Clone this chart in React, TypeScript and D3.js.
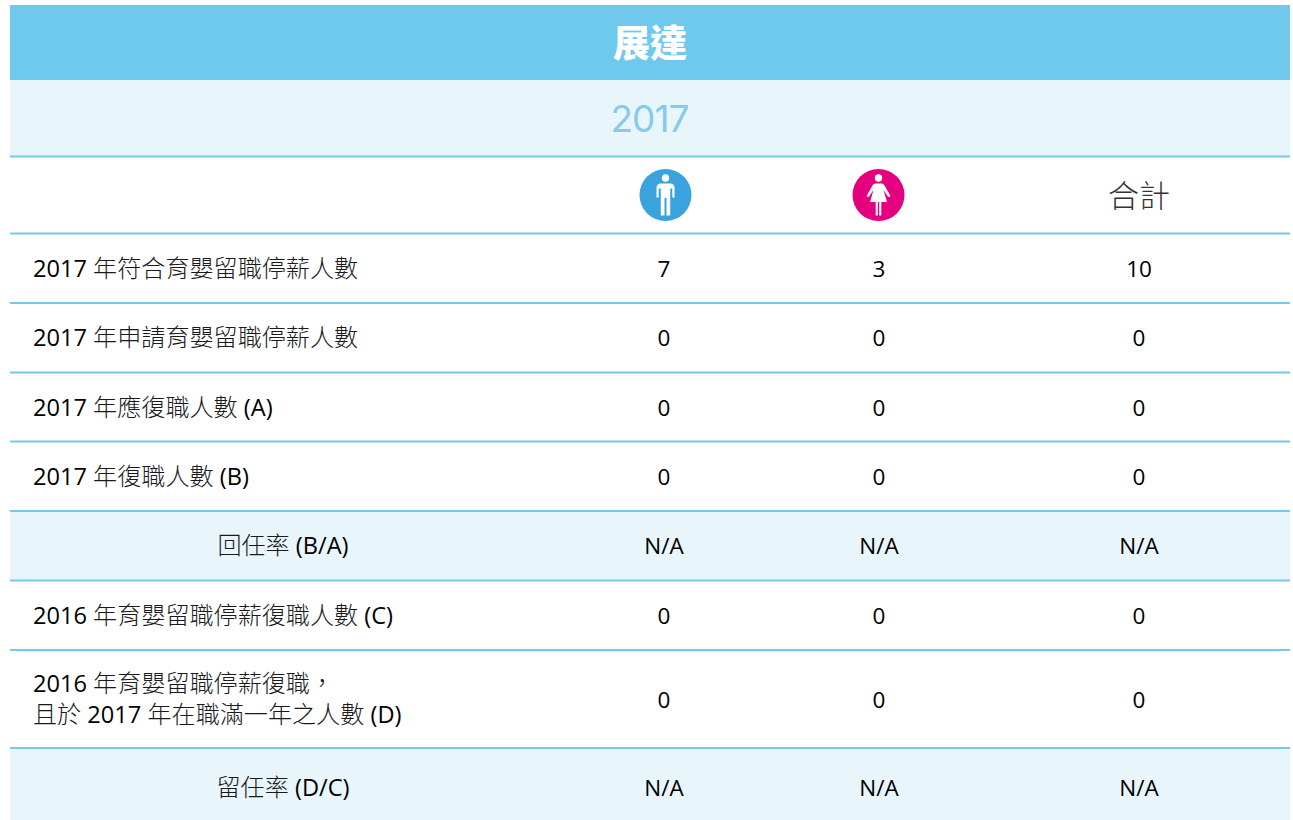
import * as d3 from "d3";
import { useEffect, useRef } from "react";

const company = "展達";
const year = "2017";
const totalLabel = "合計";
const columns = ["male", "female", "total"];
const rowLabels = [
    ["2017 年符合育嬰留職停薪人數"],
    ["2017 年申請育嬰留職停薪人數"],
    ["2017 年應復職人數 (A)"],
    ["2017 年復職人數 (B)"],
    ["回任率 (B/A)"],
    ["2016 年育嬰留職停薪復職人數 (C)"],
    ["2016 年育嬰留職停薪復職，", "且於 2017 年在職滿一年之人數 (D)"],
    ["留任率 (D/C)"],
];
const maleValues = ["7", "0", "0", "0", "N/A", "0", "0", "N/A"];
const femaleValues = ["3", "0", "0", "0", "N/A", "0", "0", "N/A"];
const totalValues = ["10", "0", "0", "0", "N/A", "0", "0", "N/A"];
const rateRows = [4, 7];

const WIDTH = 1293;
const HEIGHT = 820;
const left = 10;
const right = 1290;
// last row runs past the bottom edge of the picture, it is cut off there
const rowEdges = [233.5, 303, 372.5, 441.5, 511, 580.5, 650, 748, 826];
const blue = "#6fc9ec";
const pale = "#e8f6fc";
const font = "'Open Sans', 'Noto Sans CJK TC', sans-serif";
const cjkFont = "'Noto Sans CJK TC', sans-serif";

export default function App() {
    const svgRef = useRef<SVGSVGElement>(null);

    useEffect(() => {
        if (svgRef.current) {
            drawTable();
        }
    }, []);

    const drawTable = () => {
        const svg = d3.select(svgRef.current);
        svg.selectAll("*").remove();

        const scaleX = d3.scaleOrdinal<string, number>().domain(columns).range([664, 879, 1139]);
        const scaleRow = d3.scaleLinear().domain(d3.range(rowEdges.length)).range(rowEdges);
        const rowMid = (i: number) => (scaleRow(i) + scaleRow(i + 1)) / 2;
        const valuesByColumn: Record<string, string[]> = {
            male: maleValues,
            female: femaleValues,
            total: totalValues,
        };

        // bands
        svg.append("rect").attr("x", left).attr("y", 5).attr("width", right - left).attr("height", 75).attr("fill", blue);
        svg.append("rect").attr("x", left).attr("y", 80).attr("width", right - left).attr("height", 76).attr("fill", pale);
        rateRows.forEach((i) => {
            svg.append("rect")
                .attr("x", left)
                .attr("y", scaleRow(i))
                .attr("width", right - left)
                .attr("height", scaleRow(i + 1) - scaleRow(i))
                .attr("fill", pale);
        });

        // rules
        const rules = [156.5, ...rowEdges.slice(0, -1)];
        svg.append("g")
            .selectAll("line")
            .data(rules)
            .join("line")
            .attr("x1", left)
            .attr("x2", right)
            .attr("y1", (d) => d)
            .attr("y2", (d) => d)
            .attr("stroke", "#72caed")
            .attr("stroke-width", 2);

        // titles
        svg.append("text")
            .attr("x", 650)
            .attr("y", 57)
            .attr("text-anchor", "middle")
            .attr("font-family", cjkFont)
            .attr("font-size", 37)
            .attr("font-weight", 900)
            .attr("fill", "#fff")
            .text(company);
        svg.append("text")
            .attr("x", 649.5)
            .attr("y", 131.5)
            .attr("text-anchor", "middle")
            .attr("font-family", "Inter, 'Noto Sans', sans-serif")
            .attr("font-size", 37)
            .attr("letter-spacing", -1)
            .attr("fill", "#86caed")
            .text(year);

        // header icons
        const iconY = 195;
        const drawPerson = (cx: number, fill: string, female: boolean) => {
            const icon = svg.append("g").attr("transform", `translate(${cx},${iconY})`);
            icon.append("circle").attr("r", 26).attr("fill", fill);
            icon.append("circle").attr("cy", -17).attr("r", 3.7).attr("fill", "#fff");
            if (female) {
                icon.append("path")
                    .attr("fill", "#fff")
                    .attr("d", "M-3,-11.5 L3,-11.5 Q5,-11.5 6,-9.5 L12,1 L10,2.2 L5,-5 L8.5,7 L2.8,7 L2.8,20.5 L0.7,20.5 L0.7,7 L-0.7,7 L-0.7,20.5 L-2.8,20.5 L-2.8,7 L-8.5,7 L-5,-5 L-10,2.2 L-12,1 L-6,-9.5 Q-5,-11.5 -3,-11.5 Z");
            } else {
                icon.append("path")
                    .attr("fill", "#fff")
                    .attr("d", "M-4.5,-11.5 L4.5,-11.5 Q9,-11.5 9,-7 L9,2.5 L6.8,2.5 L6.8,-6.5 L4.7,-6.5 L4.7,20.5 L1,20.5 L1,3 L-1,3 L-1,20.5 L-4.7,20.5 L-4.7,-6.5 L-6.8,-6.5 L-6.8,2.5 L-9,2.5 L-9,-7 Q-9,-11.5 -4.5,-11.5 Z");
            }
        };
        drawPerson(scaleX("male") + 1.5, "#3aa3dd", false);
        drawPerson(scaleX("female") - 0.5, "#e4007f", true);
        svg.append("text")
            .attr("x", scaleX("total"))
            .attr("y", 206.5)
            .attr("text-anchor", "middle")
            .attr("font-family", cjkFont)
            .attr("font-size", 31)
            .attr("font-weight", 300)
            .attr("fill", "#333")
            .text(totalLabel);

        // row labels, latin runs are heavier than the thin chinese runs
        rowLabels.forEach((lines, i) => {
            const centered = rateRows.includes(i);
            const label = svg.append("text")
                .attr("text-anchor", centered ? "middle" : "start")
                .attr("font-family", font);
            lines.forEach((line, k) => {
                const runs = line.match(/[\u2E80-\uFFEF]+|[^\u2E80-\uFFEF]+/g) ?? [];
                runs.forEach((run, r) => {
                    const isCjk = /[\u2E80-\uFFEF]/.test(run);
                    const span = label.append("tspan")
                        .attr("font-family", isCjk ? cjkFont : font)
                        .attr("font-size", isCjk ? 24.1 : 23.6)
                        .attr("font-weight", isCjk ? 300 : 500)
                        .attr("fill", isCjk ? "#1a1a1a" : "#000")
                        .style("white-space", "pre")
                        .text(run);
                    if (r === 0) {
                        span.attr("x", centered ? 283 : 33)
                            .attr("y", rowMid(i) + 8.5 + (k - (lines.length - 1) / 2) * 31);
                    }
                });
            });
        });

        // values
        columns.forEach((column) => {
            svg.append("g")
                .selectAll("text")
                .data(valuesByColumn[column])
                .join("text")
                .attr("x", scaleX(column))
                .attr("y", (_, i) => rowMid(i) + 8.5)
                .attr("text-anchor", "middle")
                .attr("font-family", font)
                .attr("font-size", 22.5)
                .attr("font-weight", 500)
                .attr("fill", "#000")
                .text((d) => d);
        });
    };

    return (
        <svg
            ref={svgRef}
            width={WIDTH}
            height={HEIGHT}
            style={{ position: "absolute", left: 0, top: 0, background: "#fff" }}
        />
    );
}
